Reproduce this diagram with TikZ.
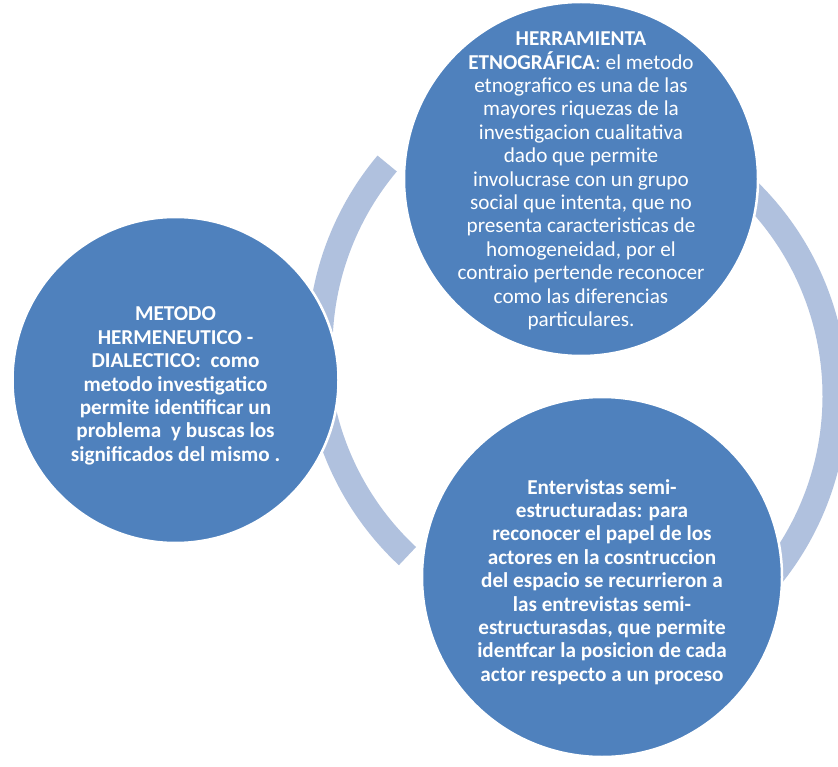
\documentclass[tikz,border=0pt]{standalone}
\usepackage{fontspec}
\setmainfont{Carlito}
\definecolor{discblue}{RGB}{79,129,189}
\definecolor{bandblue}{RGB}{176,193,222}
\tikzset{
  disc/.style={circle, fill=discblue, draw=white, line width=2.5pt, inner sep=0pt},
  disctext/.style={text=white, align=center, inner sep=0pt,
    font=\fontsize{21.2}{23.4}\selectfont},
  band/.style={draw=bandblue, line width=25pt, line cap=butt}
}
\begin{document}
\begin{tikzpicture}[x=1pt, y=-1pt]
  \clip (0,0) rectangle (838,767);
  \fill[white] (0,0) rectangle (838,767);

  % centres of the three curved bands
  \coordinate (upc) at (607,348);
  \coordinate (lowc) at (603.2,346.2);
  \coordinate (rc) at (548,396);

  % curved bands running between the discs
  \draw[band] (upc) ++(183:287) arc[start angle=183, end angle=220, radius=287];
  \draw[band] (lowc) ++(180:287) arc[start angle=180, end angle=133, radius=287];
  \draw[band] (rc) ++(-55:287) arc[start angle=-55, end angle=50, radius=287];

  % discs
  \node[disc, minimum size=326pt] (left) at (175.5,380) {};
  \node[disc, minimum size=354pt] (top) at (581,179) {};
  \node[disc, minimum size=360pt] (bottom) at (602,577) {};

  % texts
  \node[disctext] (toptext) at (581,181) {%
    \textbf{HERRAMIENTA}\\
    \textbf{ETNOGRÁFICA}: el metodo\\
    etnografico es una de las\\
    mayores riquezas de la\\
    investigacion cualitativa\\
    dado que permite\\
    involucrase con un grupo\\
    social que intenta, que no\\
    presenta caracteristicas de\\
    homogeneidad, por el\\
    contraio pertende reconocer\\
    como las diferencias\\
    particulares.};

  \node[disctext, font=\fontsize{21.2}{23.4}\selectfont\bfseries] (lefttext) at (175.5,386) {%
    METODO\\
    HERMENEUTICO -\\
    DIALECTICO:\ \ como\\
    metodo investigatico\\
    permite identificar un\\
    problema\ \ y buscas los\\
    significados del mismo .};

  \node[disctext, font=\fontsize{21.2}{23.4}\selectfont\bfseries] (bottomtext) at (602,582) {%
    Entervistas semi-\\
    estructuradas: para\\
    reconocer el papel de los\\
    actores en la cosntruccion\\
    del espacio se recurrieron a\\
    las entrevistas semi-\\
    estructurasdas, que permite\\
    identfcar la posicion de cada\\
    actor respecto a un proceso};
\end{tikzpicture}
\end{document}
